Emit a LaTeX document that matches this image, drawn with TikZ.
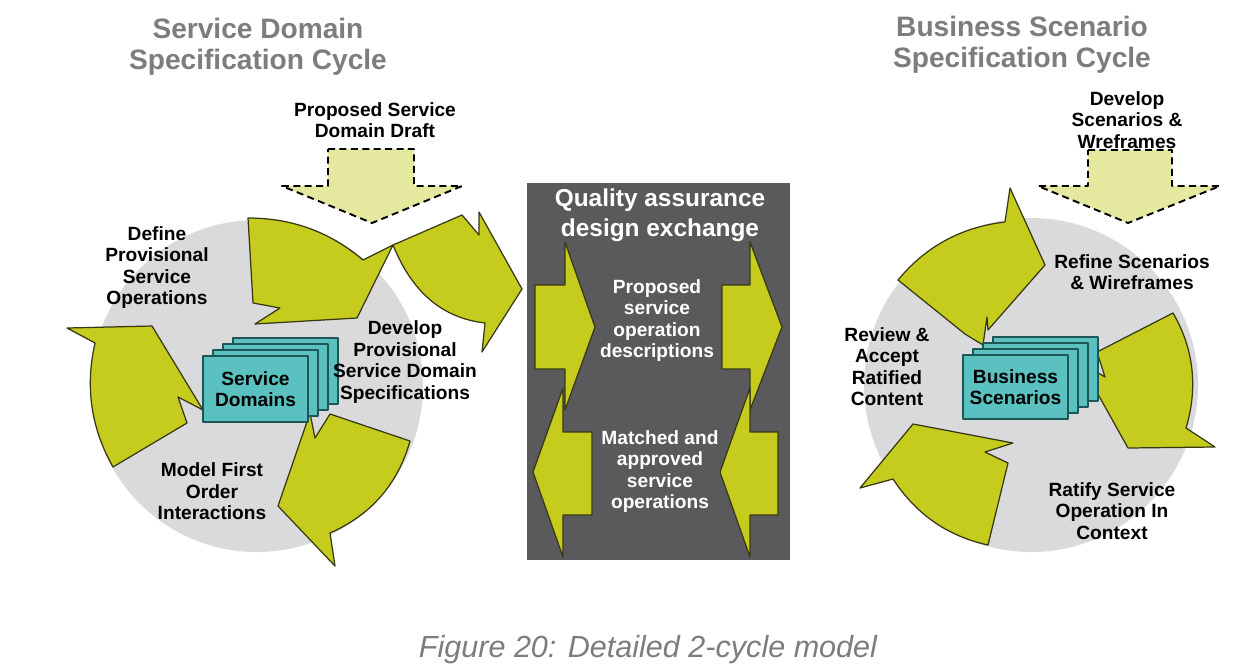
\documentclass[tikz,border=0pt]{standalone}
\usepackage{fontspec}
\setmainfont{Liberation Sans}
\usepackage{tikz}
\definecolor{cyc}{RGB}{218,218,220}
\definecolor{arw}{RGB}{197,204,30}
\definecolor{arwline}{RGB}{55,55,20}
\definecolor{draft}{RGB}{229,233,160}
\definecolor{doc}{RGB}{90,192,192}
\definecolor{docline}{RGB}{30,85,85}
\definecolor{qapanel}{RGB}{90,90,92}
\definecolor{ttl}{RGB}{125,125,125}

\begin{document}
\begin{tikzpicture}[x=0.02cm,y=-0.02cm,line join=round,
  cyc arrow/.style={fill=arw,draw=arwline,line width=0.7pt},
  draft arrow/.style={fill=draft,draw=black,line width=1.1pt,dash pattern=on 4pt off 2.5pt},
  docbox/.style={fill=doc,draw=docline,line width=0.8pt},
  lbl/.style={font=\fontsize{10.9}{12.2}\selectfont\bfseries,align=center,inner sep=0pt},
  ttlfont/.style={font=\fontsize{16}{17.6}\selectfont\bfseries,text=ttl,align=center,inner sep=0pt},
  qattl/.style={font=\fontsize{13.9}{17}\selectfont\bfseries,text=white,align=center,inner sep=0pt},
  capfont/.style={font=\fontsize{17.4}{20}\selectfont\itshape,text=ttl,inner sep=0pt}]
  \fill[white] (0,0) rectangle (1241,667);
  \useasboundingbox (0,0) rectangle (1241,667);
  % service domain cycle
  \fill[cyc] (257,386) circle (166);
  \draw[cyc arrow] (248,218) .. controls (292,218) and (330,232) .. (363,260) -- (393,245) -- (357,318) -- (255,324) -- (280,308) -- (253,303) -- cycle;
  \draw[cyc arrow] (67,328) -- (152,326) -- (203,410) -- (178,397) -- (187,423) -- (113,467) .. controls (91,428) and (85,387) .. (95,343) -- cycle;
  \draw[cyc arrow] (310,413) -- (315,438) -- (330,414) -- (410,441) .. controls (398,484) and (371,515) .. (330,533) -- (335,566) -- (278,506) -- cycle;
  \draw[cyc arrow] (393,245) -- (462,215) -- (479,235) -- (479,212) -- (522,289) -- (482,352) -- (485,323) .. controls (442,318) and (412,292) .. (393,245) -- cycle;
  \draw[draft arrow] (328,149) -- (414,149) -- (414,186) -- (462,186) -- (372,223) -- (282,186) -- (328,186) -- cycle;
  \foreach \k in {3,2,1} \draw[docbox,shift={(\k*10,-\k*6)}] (203,356) rectangle (308,422);
  \node[docbox,lbl,minimum width=2.1cm,minimum height=1.32cm] (sdbox) at (255.5,389) {Service\\Domains};
  % business scenario cycle
  \fill[cyc] (1031,385) circle (167);
  \draw[cyc arrow] (898,280) .. controls (926,246) and (962,227) .. (1005,222) -- (1010,188) -- (1045,265) -- (988,330) -- (987,317) -- (983,345) -- (965,334) -- cycle;
  \draw[cyc arrow] (1173,313) .. controls (1194,349) and (1198,388) .. (1186,428) -- (1215,447) -- (1128,448) -- (1080,362) -- (1105,377) -- (1097,352) -- cycle;
  \draw[cyc arrow] (913,424) -- (1013,443) -- (985,452) -- (1008,463) -- (988,545) .. controls (947,536) and (916,514) .. (893,479) -- (860,488) -- cycle;
  \draw[draft arrow] (1088,150) -- (1172,150) -- (1172,186) -- (1220,186) -- (1128,223) -- (1038,186) -- (1088,186) -- cycle;
  \foreach \k in {3,2,1} \draw[docbox,shift={(\k*10,-\k*6)}] (963,355) rectangle (1068,419);
  \node[docbox,lbl,minimum width=2.1cm,minimum height=1.28cm] (bsbox) at (1015.5,387) {Business\\Scenarios};
  % quality assurance panel
  \fill[qapanel] (527,183) rectangle (790,560);
  \draw[cyc arrow] (535,285) -- (565,285) -- (565,242) -- (595,327) -- (565,410) -- (565,369) -- (535,369) -- cycle;
  \draw[cyc arrow] (722,285) -- (750,285) -- (750,242) -- (782,327) -- (750,410) -- (750,369) -- (722,369) -- cycle;
  \draw[cyc arrow] (592,432) -- (563,432) -- (563,388) -- (533,472) -- (563,557) -- (563,515) -- (592,515) -- cycle;
  \draw[cyc arrow] (778,432) -- (750,432) -- (750,388) -- (720,472) -- (750,557) -- (750,515) -- (778,515) -- cycle;
  % labels
  \node[ttlfont] (sdtitle) at (258,47) {Service Domain\\Specification Cycle};
  \node[ttlfont] (bstitle) at (1022,45) {Business Scenario\\Specification Cycle};
  \node[lbl] (draftlbl) at (375,120) {Proposed Service\\Domain Draft};
  \node[lbl] (define) at (157,267.5) {Define\\Provisional\\Service\\Operations};
  \node[lbl] (develop) at (405,362) {Develop\\Provisional\\Service Domain\\Specifications};
  \node[lbl] (model) at (212,491.5) {Model First\\Order\\Interactions};
  \node[lbl] (wirelbl) at (1127,120) {Develop\\Scenarios \&\\Wreframes};
  \node[lbl] (refine) at (1132,272) {Refine Scenarios\\\& Wireframes};
  \node[lbl] (review) at (887,366.5) {Review \&\\Accept\\Ratified\\Content};
  \node[lbl] (ratify) at (1112,511) {Ratify Service\\Operation In\\Context};
  \node[qattl] (qa) at (660,215) {Quality assurance\\design exchange};
  \node[lbl,text=white] (proposed) at (657,320.5) {Proposed\\service\\operation\\descriptions};
  \node[lbl,text=white] (matched) at (660,471.5) {Matched and\\approved\\service\\operations};
  \node[capfont] (fig) at (648,650) {Figure 20: Detailed 2-cycle model};
\end{tikzpicture}
\end{document}
